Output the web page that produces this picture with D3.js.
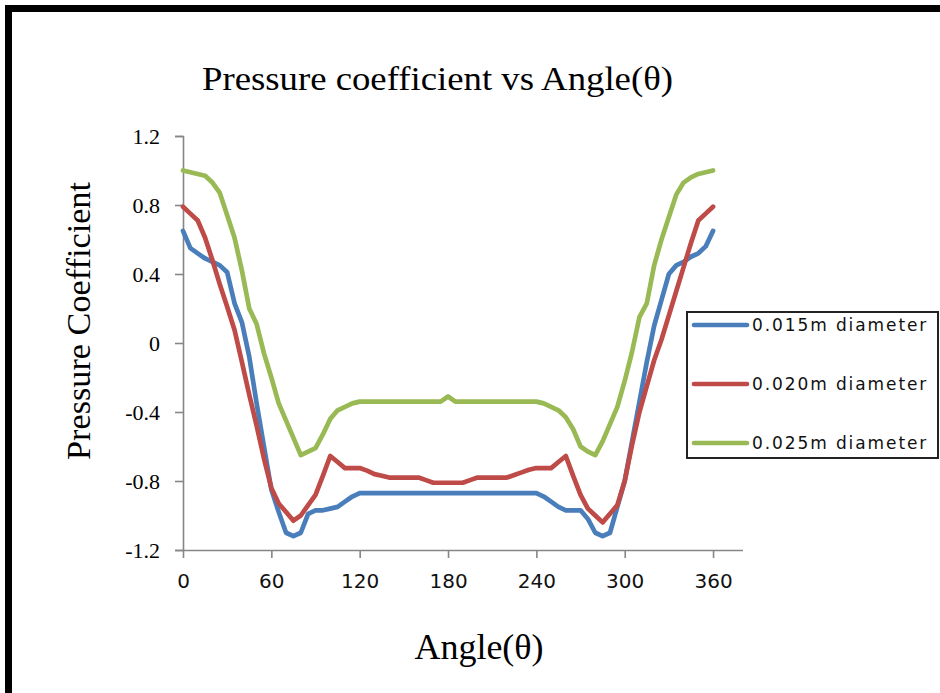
<!DOCTYPE html>
<html>
<head>
<meta charset="utf-8">
<script src="https://cdn.jsdelivr.net/npm/d3@7"></script>
<style>
  html, body { margin: 0; padding: 0; background: #fff; }
</style>
</head>
<body>
<div id="chart"></div>
<script>
const angles = [
  0, 5, 10, 15, 20, 25, 30, 35, 40, 45, 50, 55, 60, 65, 70, 75, 80, 85, 90, 95,
  100, 105, 110, 115, 120, 125, 130, 135, 140, 145, 150, 155, 160, 165, 170, 175,
  180, 185, 190, 195, 200, 205, 210, 215, 220, 225, 230, 235, 240, 245, 250, 255,
  260, 265, 270, 275, 280, 285, 290, 295, 300, 305, 310, 315, 320, 325, 330, 335,
  340, 345, 350, 355, 360
];

const d015 = [
  0.65, 0.55, 0.52, 0.49, 0.47, 0.45, 0.41, 0.23, 0.12, -0.08, -0.35, -0.6, -0.85,
  -0.98, -1.1, -1.12, -1.1, -0.99, -0.97, -0.97, -0.96, -0.95, -0.92, -0.89, -0.87,
  -0.87, -0.87, -0.87, -0.87, -0.87, -0.87, -0.87, -0.87, -0.87, -0.87, -0.87,
  -0.87, -0.87, -0.87, -0.87, -0.87, -0.87, -0.87, -0.87, -0.87, -0.87, -0.87, -0.87,
  -0.87, -0.89, -0.92, -0.95, -0.97, -0.97, -0.97, -1.02, -1.1, -1.12, -1.1, -0.95,
  -0.8, -0.57, -0.34, -0.11, 0.1, 0.25, 0.4, 0.45, 0.47, 0.5, 0.52, 0.56, 0.65
];

const d020 = [
  0.79, 0.75, 0.71, 0.61, 0.48, 0.34, 0.21, 0.075, -0.11, -0.3, -0.48, -0.67, -0.84,
  -0.93, -0.98, -1.03, -1.0, -0.94, -0.88, -0.77, -0.655, -0.69, -0.725, -0.725, -0.725,
  -0.74, -0.76, -0.77, -0.78, -0.78, -0.78, -0.78, -0.78, -0.795, -0.81, -0.81,
  -0.81, -0.81, -0.81, -0.795, -0.78, -0.78, -0.78, -0.78, -0.78, -0.765, -0.75, -0.735,
  -0.725, -0.725, -0.725, -0.69, -0.655, -0.77, -0.88, -0.96, -1.0, -1.04, -0.99, -0.94,
  -0.8, -0.59, -0.4, -0.25, -0.1, 0.02, 0.16, 0.3, 0.44, 0.58, 0.71, 0.75, 0.79
];

const d025 = [
  1.0, 0.99, 0.98, 0.97, 0.93, 0.87, 0.74, 0.61, 0.42, 0.2, 0.11, -0.06, -0.2,
  -0.35, -0.45, -0.55, -0.65, -0.63, -0.61, -0.53, -0.44, -0.39, -0.37, -0.35, -0.34,
  -0.34, -0.34, -0.34, -0.34, -0.34, -0.34, -0.34, -0.34, -0.34, -0.34, -0.34,
  -0.31, -0.34, -0.34, -0.34, -0.34, -0.34, -0.34, -0.34, -0.34, -0.34, -0.34, -0.34,
  -0.34, -0.35, -0.37, -0.39, -0.43, -0.5, -0.6, -0.63, -0.65, -0.57, -0.47, -0.37,
  -0.22, -0.05, 0.15, 0.23, 0.45, 0.6, 0.73, 0.86, 0.93, 0.96, 0.98, 0.99, 1.0
];

const seriesNames = ["0.015m diameter", "0.020m diameter", "0.025m diameter"];
const seriesColors = ["#4A7EBB", "#BE4B48", "#98B954"];
const xTicks = [0, 60, 120, 180, 240, 300, 360];
const yTicks = [-1.2, -0.8, -0.4, 0, 0.4, 0.8, 1.2];
const yTickLabels = ["-1.2", "-0.8", "-0.4", "0", "0.4", "0.8", "1.2"];

const width = 940;
const height = 693;

const svg = d3.select("#chart").append("svg")
  .attr("width", width)
  .attr("height", height);

// outer frame (top and left edges visible)
svg.append("path")
  .attr("d", "M8.5,700 V8.5 H945")
  .attr("fill", "none")
  .attr("stroke", "#000")
  .attr("stroke-width", 7);

const x = d3.scaleLinear().domain([0, 380]).range([183, 742.5]);
const y = d3.scaleLinear().domain([-1.2, 1.2]).range([550, 136]);

// title
svg.append("text")
  .attr("x", 437.5)
  .attr("y", 90)
  .attr("text-anchor", "middle")
  .attr("font-family", "Liberation Serif, Times New Roman, serif")
  .attr("font-size", 34)
  .attr("textLength", 471)
  .attr("lengthAdjust", "spacingAndGlyphs")
  .text("Pressure coefficient vs Angle(θ)");

// y axis
const yAxis = d3.axisLeft(y)
  .tickValues(yTicks)
  .tickSize(8)
  .tickFormat((d, i) => yTickLabels[i]);
const gy = svg.append("g").attr("transform", "translate(183,0)").call(yAxis);
gy.select(".domain").attr("stroke", "#868686").attr("stroke-width", 1.6);
gy.selectAll(".tick line").attr("stroke", "#868686").attr("stroke-width", 1.6);
gy.selectAll(".tick text")
  .attr("x", -23)
  .attr("font-family", "Liberation Serif, Times New Roman, serif")
  .attr("font-size", 22)
  .attr("fill", "#000");

// x axis
const xAxis = d3.axisBottom(x).tickValues(xTicks).tickSize(8).tickSizeOuter(0);
const gx = svg.append("g").attr("transform", "translate(0,550)").call(xAxis);
gx.select(".domain").attr("stroke", "#868686").attr("stroke-width", 1.6);
gx.selectAll(".tick line").attr("stroke", "#868686").attr("stroke-width", 1.6);
gx.selectAll(".tick text")
  .attr("y", 32)
  .attr("dy", "0.32em")
  .attr("font-family", "DejaVu Sans, Verdana, sans-serif")
  .attr("font-size", 20)
  .attr("fill", "#111");

// axis titles
svg.append("text")
  .attr("x", 479)
  .attr("y", 659)
  .attr("text-anchor", "middle")
  .attr("font-family", "Liberation Serif, Times New Roman, serif")
  .attr("font-size", 36)
  .text("Angle(θ)");

svg.append("text")
  .attr("transform", "translate(90,321) rotate(-90)")
  .attr("text-anchor", "middle")
  .attr("font-family", "Liberation Serif, Times New Roman, serif")
  .attr("font-size", 34)
  .attr("textLength", 278)
  .attr("lengthAdjust", "spacingAndGlyphs")
  .text("Pressure Coefficient");

// series
const allSeries = [d015, d020, d025];
const line = d3.line()
  .x((d, i) => x(angles[i]))
  .y(d => y(d));

svg.append("g")
  .selectAll("path")
  .data(allSeries)
  .join("path")
  .attr("d", line)
  .attr("fill", "none")
  .attr("stroke", (d, i) => seriesColors[i])
  .attr("stroke-width", 4.7)
  .attr("stroke-linejoin", "round")
  .attr("stroke-linecap", "round");

// legend
const legend = svg.append("g");
legend.append("rect")
  .attr("x", 687)
  .attr("y", 312)
  .attr("width", 251)
  .attr("height", 146)
  .attr("fill", "#fff")
  .attr("stroke", "#222")
  .attr("stroke-width", 2);

const legendY = [325, 384, 443];
const items = legend.selectAll("g.item")
  .data(seriesNames)
  .join("g")
  .attr("class", "item")
  .attr("transform", (d, i) => `translate(0,${legendY[i]})`);

items.append("line")
  .attr("x1", 694)
  .attr("x2", 747)
  .attr("stroke", (d, i) => seriesColors[i])
  .attr("stroke-width", 4.7)
  .attr("stroke-linecap", "round");

items.append("text")
  .attr("x", 752)
  .attr("dy", "0.36em")
  .attr("font-family", "DejaVu Sans, Verdana, sans-serif")
  .attr("font-size", 17)
  .attr("letter-spacing", 1.9)
  .attr("fill", "#111")
  .text(d => d);
</script>
</body>
</html>
